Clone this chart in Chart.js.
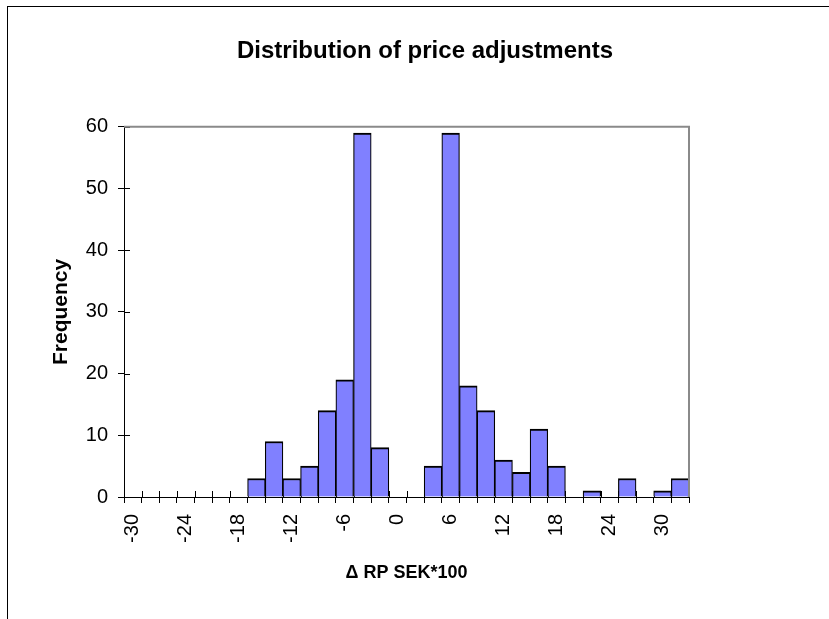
<!DOCTYPE html>
<html>
<head>
<meta charset="utf-8">
<script src="https://cdn.jsdelivr.net/npm/chart.js@4"></script>
<style>
  body { margin: 0; background: #fff; }
  #wrap { position: relative; width: 829px; height: 619px; overflow: hidden; }
  #frame { position: absolute; left: 7px; top: 6px; width: 900px; height: 700px;
           border-left: 1px solid #000; border-top: 1px solid #000; pointer-events: none; }
</style>
</head>
<body>
<div id="wrap">
  <canvas id="histChart" width="829" height="619"></canvas>
  <div id="frame"></div>
</div>
<script>
/************ 데이터 ************/
const categories = [-30, -28, -26, -24, -22, -20, -18, -16, -14, -12, -10, -8, -6, -4, -2, 0,
  2, 4, 6, 8, 10, 12, 14, 16, 18, 20, 22, 24, 26, 28, 30, 32];
const frequency = [0, 0, 0, 0, 0, 0, 0, 3, 9, 3, 5, 14, 19, 59, 8, 0,
  0, 5, 59, 18, 14, 6, 4, 11, 5, 0, 1, 0, 3, 0, 1, 3];
const xTickLabels = ['-30', '-24', '-18', '-12', '-6', '0', '6', '12', '18', '24', '30'];
const yTicks = [0, 10, 20, 30, 40, 50, 60];

/************ 축 눈금 안쪽 + 플롯 테두리 ************/
const crossTicks = {
  id: 'crossTicks',
  beforeDatasetsDraw(chart) {
    const ctx = chart.ctx;
    const area = chart.chartArea;
    const y = chart.scales.y;
    ctx.save();
    ctx.strokeStyle = '#000';
    ctx.lineWidth = 1;
    ctx.beginPath();
    const step = (area.right - area.left) / categories.length;
    for (let i = 0; i <= categories.length; i++) {
      const px = Math.round(area.left + i * step) + 0.5;
      ctx.moveTo(px, area.bottom);
      ctx.lineTo(px, area.bottom - 6);
    }
    for (let i = 0; i < yTicks.length; i++) {
      const py = Math.round(y.getPixelForValue(yTicks[i])) + 0.5;
      ctx.moveTo(area.left, py);
      ctx.lineTo(area.left + 6, py);
    }
    ctx.stroke();
    ctx.restore();
  },
  afterDraw(chart) {
    const ctx = chart.ctx;
    const area = chart.chartArea;
    ctx.save();
    ctx.strokeStyle = '#8a8a8a';
    ctx.lineWidth = 2;
    ctx.beginPath();
    ctx.moveTo(area.left, area.top);
    ctx.lineTo(area.right, area.top);
    ctx.lineTo(area.right, area.bottom);
    ctx.stroke();
    ctx.restore();
  }
};

const ctx = document.getElementById('histChart');

const data = {
  labels: categories,
  datasets: [{
    label: 'Frequency',
    data: frequency,
    backgroundColor: '#8080ff',
    borderColor: '#000',
    borderWidth: { top: 2, left: 1.2, right: 1.2, bottom: 0 },
    borderSkipped: 'bottom',
    barPercentage: 1,
    categoryPercentage: 1
  }]
};

const config = {
  type: 'bar',
  data: data,
  options: {
    responsive: false,
    animation: false,
    layout: { padding: { left: 21, right: 0, top: 0, bottom: 0 } },
    scales: {
      x: {
        grid: { display: true, drawOnChartArea: false, drawTicks: true, tickLength: 6, color: '#000', offset: true },
        border: { display: true, color: '#000', width: 1 },
        ticks: {
          autoSkip: false,
          maxRotation: 90,
          minRotation: 90,
          padding: 11,
          color: '#000',
          font: { family: 'Liberation Sans, Arial', size: 20 },
          callback: function (val, idx) {
            const lab = String(categories[idx]);
            return xTickLabels.includes(lab) ? lab : '';
          }
        },
        title: {
          display: true,
          text: '\u0394 RP SEK*100',
          color: '#000',
          font: { family: 'Liberation Sans, Arial', size: 18, weight: 'bold' },
          padding: { top: 0, bottom: 35 }
        },
        afterFit: function (scale) { scale.height = 122; }
      },
      y: {
        min: 0,
        max: 60,
        grid: { display: true, drawOnChartArea: false, drawTicks: true, tickLength: 6, color: '#000' },
        border: { display: true, color: '#000', width: 1 },
        ticks: {
          stepSize: 10,
          padding: 10,
          color: '#000',
          font: { family: 'Liberation Sans, Arial', size: 20 }
        },
        title: {
          display: true,
          text: 'Frequency',
          color: '#000',
          font: { family: 'Liberation Sans, Arial', size: 21, weight: 'bold' },
          padding: { top: 28, bottom: 0 }
        },
        afterFit: function (scale) { scale.width = 103; }
      },
      y2: {
        type: 'linear',
        position: 'right',
        display: true,
        grid: { display: false },
        border: { display: false },
        ticks: { display: false },
        afterFit: function (scale) { scale.width = 140; }
      }
    },
    plugins: {
      legend: { display: false },
      tooltip: { enabled: false },
      title: {
        display: true,
        text: 'Distribution of price adjustments',
        color: '#000',
        font: { family: 'Liberation Sans, Arial', size: 24, weight: 'bold' },
        padding: { top: 37, bottom: 61 }
      }
    }
  },
  plugins: [crossTicks]
};

new Chart(ctx, config);
</script>
</body>
</html>
